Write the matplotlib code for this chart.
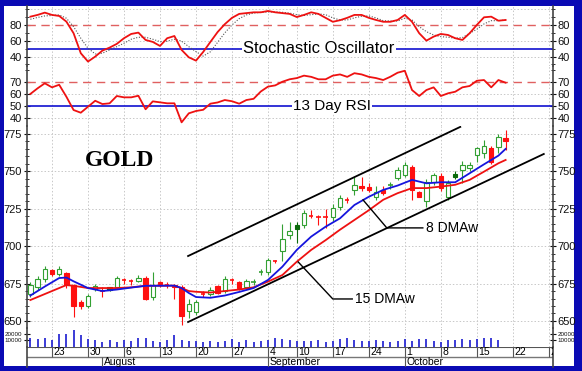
import numpy as np
import matplotlib.pyplot as plt
from matplotlib.patches import Rectangle

# ---- data (trading-day index 0 = Jul 18) ----
opens = [668, 673, 678, 684, 681.5, 682, 674, 662.7, 660, 671.5,
         670.5, 670.7, 672.7, 677.7, 677, 677, 679, 666, 676, 674.3,
         674, 673, 656.7, 656, 668.2, 668, 673.6, 670, 677.2, 676,
         673, 676, 682.6, 683, 690.3, 697, 707.5, 711.5, 714, 720.8,
         719.5, 719.5, 719.8, 726, 731.3, 737.5, 740.5, 739.8, 733, 737.6,
         741, 745.6, 747.6, 753, 736.4, 730, 743, 747, 733, 746.5,
         751, 752, 761, 762, 765.6, 766.5, 772]
highs = [676, 680, 687, 685, 687, 683, 675, 664, 668, 675,
         673, 673, 680, 679, 678, 681, 680, 683, 677, 676,
         675, 674, 665, 664, 670, 673, 674, 680, 679, 677,
         678, 678, 685, 692, 691, 715, 716, 716, 724, 724,
         721, 725, 728, 734, 733, 746.5, 746, 742, 740, 740,
         743, 753, 756, 754, 737, 745, 749, 749, 744, 750,
         757, 756, 766, 771, 767, 775, 777.7]
lows = [666, 671, 676, 680, 680, 672, 652.7, 658, 659, 670,
        666, 670, 672, 675, 674, 676, 664, 664, 673, 672,
        665, 647, 652, 654, 666, 667, 668, 669, 675, 671,
        672, 674, 681, 681, 689, 690, 705, 702, 712, 719,
        714, 712, 717, 724, 729, 734, 737, 736, 731, 734,
        738, 744, 746, 731, 733, 726.5, 741, 737, 731, 745,
        742, 750, 756, 759, 755, 762, 764]
closes = [674, 678, 685, 681.5, 685, 674, 660, 660, 667, 673.5,
          670, 672.7, 678.7, 677.4, 676.6, 679, 665, 674, 674.5, 674,
          673, 653, 661.4, 663, 668, 671, 668.5, 678, 677, 672,
          677, 676.4, 683, 691, 690, 705, 710, 714, 722, 720,
          719, 719, 725.7, 732, 731, 741, 738.8, 737.6, 736.5, 735.4,
          741.3, 751, 754, 737.6, 733, 743, 747.6, 738.7, 742, 748.3,
          754, 754, 765.6, 767, 756.5, 773, 770]
# u = hollow up, d = red down, g = solid green
kinds = list("uuududdduu" "dguddududd" "dduudududd"
             "uuuuduugud" "dduududdud" "uuudduudug"
             "uuuudud")

volume = [13800, 12300, 13800, 10800, 18800, 18800, 25600, 17300, 12300, 9900,
          7400, 9900, 7400, 9900, 8900, 13800, 13300, 8900, 7400, 9900,
          17300, 10800, 8900, 8900, 7400, 8900, 7400, 8900, 12300, 7400,
          9900, 7400, 8900, 9900, 13300, 12300, 9900, 8900, 8900, 8900,
          9900, 7400, 8900, 12300, 13800, 10400, 8900, 8900, 10400, 8900,
          7400, 8900, 12300, 8900, 12300, 12300, 8900, 7400, 9900, 9900,
          12300, 9900, 12300, 13800, 13800, 10800]

ma_idx = [0, 2, 4, 5, 6, 8, 10, 12, 14, 16, 20, 21, 22, 23, 25, 27, 29, 31,
          33, 35, 37, 39, 41, 43, 45, 47, 49, 51, 53, 55, 57, 59, 61, 63, 65, 66]
ma8 = [667, 673, 678.7, 679, 676.5, 672, 670, 671, 672.3, 673.5, 673.6, 672,
       668.7, 666, 665.5, 667, 669.4, 672, 677.4, 686.3, 697.5, 706.4, 713,
       718.6, 727.5, 733, 737.6, 740.5, 744.3, 742, 742.7, 742.7, 748.7,
       754.7, 760.5, 765]
ma15 = [664, 668, 672, 674, 673.5, 672, 672, 672, 672.5, 673.5, 673.6, 672,
        670, 669.5, 669, 670, 671, 672.5, 676.3, 680.7, 689.6, 697.5, 704,
        711, 717.5, 724, 731, 735.4, 738.8, 738.8, 739.8, 741, 744.3, 749.8,
        755.4, 757.6]

stoch_k = [90.5, 92.7, 95.6, 92.7, 91.4, 84.2, 69.5, 44.2, 33.6, 39.9,
           47.5, 51.3, 56, 63.2, 68.6, 70.3, 61, 58.5, 53.4, 63.2,
           66, 48.4, 39, 34.8, 45.8, 58.5, 71, 81, 89, 94,
           95, 96, 96, 97.7, 96, 95, 94, 90, 92.7, 96,
           94, 89, 84, 86, 89, 92.7, 92.7, 89, 86.3, 84,
           84, 86.3, 92.7, 84, 69.5, 60.1, 65.2, 68.6, 67.3, 63.2,
           61, 69.5, 80, 89.7, 90.5, 85.4, 86.3]
stoch_d = [87.2, 89.5, 91.4, 92, 92.7, 88.5, 77.8, 63.2, 50.5, 43.3,
           44.2, 48.4, 52.5, 56.8, 61.9, 64.4, 64.4, 61.9, 58.9, 59.5,
           61.9, 59.5, 52.5, 46.2, 40.5, 46, 58, 70, 80, 88,
           92.7, 95, 96, 96.5, 96.5, 96, 95, 93, 92, 93,
           94, 93, 89, 86.3, 86.3, 89, 91, 91.4, 89, 85.4,
           85, 85, 88.5, 86.3, 77.8, 71.5, 67.3, 65.2, 64.4, 63.2,
           64, 69.5, 74.5, 81.3, 85.4, 85.4, 86.3]
rsi = [60, 64.6, 68.7, 65.4, 67.5, 57.7, 46.8, 44.6, 49.5, 54.4,
       51.7, 52.3, 58.3, 57.2, 57.2, 58.5, 47.4, 53.9, 53.1, 52.3,
       52.3, 36.7, 44.1, 46, 47, 52, 53, 55, 54, 52,
       55, 56, 62, 66, 67, 70, 72, 73, 75, 74,
       72, 72, 75, 76, 74, 77, 76, 74, 73, 71.4,
       74.1, 77.4, 79, 63.2, 58.3, 63.2, 65.4, 58.3, 60.5, 61.8,
       65.4, 66.5, 70.8, 71.4, 65.4, 71.4, 69.2]

day_ticks = [3, 8, 13, 18, 23, 28, 33, 37, 42, 47, 52, 57, 62, 67, 72]
day_labels = ["23", "30", "6", "13", "20", "27", "4", "10", "17", "24",
              "1", "8", "15", "22", "29"]
month_starts = [10, 33, 52]
month_labels = ["August", "September", "October"]

chan_upper = ([21.9, 59.7], [693.4, 779.7])
chan_lower = ([21.9, 71.3], [649.3, 761.6])
ann8 = ([46.2, 49.5, 54.5], [730.9, 712.2, 712.2])
ann15 = ([37.2, 42.0, 44.7], [689.4, 664.7, 664.7])

# ---- layout ----
W, H = 582, 371
BLUE = "#0a0ab4"
GRID = "#c8c8c8"
FONT = "Liberation Sans"
plt.rcParams["font.family"] = FONT

fig = plt.figure(figsize=(W / 100, H / 100), dpi=100)
fig.patch.set_facecolor(BLUE)
bg = fig.add_axes([4 / W, 1 - 366 / H, 570 / W, 360 / H], zorder=-5)
bg.set_facecolor("white")
bg.set_xticks([])
bg.set_yticks([])
for s in bg.spines.values():
    s.set_visible(False)


def box(x0, y0, x1, y1):
    return [x0 / W, 1 - y1 / H, (x1 - x0) / W, (y1 - y0) / H]


xlim = (-0.47, 72.58)
ax_st = fig.add_axes(box(27, 6, 553, 66))
ax_rsi = fig.add_axes(box(27, 66, 553, 126))
ax_px = fig.add_axes(box(27, 126, 553, 328))
ax_vol = fig.add_axes(box(27, 328, 553, 347))
ax_dt = fig.add_axes(box(27, 347, 553, 367))

for ax in (ax_st, ax_rsi, ax_px, ax_vol, ax_dt):
    ax.set_xlim(*xlim)
    ax.patch.set_alpha(0)
    ax.spines["top"].set_visible(False)
    ax.spines["bottom"].set_visible(False)
    for s in ("left", "right"):
        ax.spines[s].set_color("#444444")
        ax.spines[s].set_linewidth(1.2)
    ax.set_xticks([])
    ax.tick_params(axis="y", which="both", left=True, right=True,
                   labelleft=True, labelright=True, direction="inout",
                   labelsize=8, pad=1, colors="#111111")
    ax.tick_params(axis="y", which="major", length=5, width=0.8)
    ax.tick_params(axis="y", which="minor", length=3, width=0.6)
    for d in day_ticks:
        if ax is not ax_dt:
            ax.axvline(d, color=GRID, lw=0.7, ls=(0, (1.5, 2)), zorder=0)

# stochastic
x = np.arange(len(stoch_k))
ax_st.set_ylim(28, 104)
ax_st.set_yticks([40, 60, 80])
ax_st.set_yticks([30, 50, 70, 90, 100], minor=True)
ax_st.tick_params(axis="y", which="minor", labelleft=False, labelright=False)
for v in (60, 40, 100):
    ax_st.axhline(v, color=GRID, lw=0.7, ls=(0, (1.5, 2)), zorder=0)
ax_st.axhline(80, color="#e06060", lw=1.0, ls=(0, (6, 4)))
ax_st.axhline(50, color="#1010d0", lw=1.2)
ax_st.plot(x, stoch_d, color="#555555", lw=0.8, ls=(0, (1, 1.5)))
ax_st.plot(x, stoch_k, color="#ee1111", lw=1.3)
ax_st.text(0.555, 50, "Stochastic Oscillator", ha="center", va="center",
           fontsize=12, transform=ax_st.get_yaxis_transform(),
           bbox=dict(facecolor="white", edgecolor="none", pad=1.0))

# RSI
ax_rsi.set_ylim(33.7, 82.9)
ax_rsi.set_yticks([40, 50, 60, 70])
ax_rsi.set_yticks([80], minor=True)
ax_rsi.tick_params(axis="y", which="minor", labelleft=False, labelright=False)
for v in (60, 40):
    ax_rsi.axhline(v, color=GRID, lw=0.7, ls=(0, (1.5, 2)), zorder=0)
ax_rsi.axhline(70, color="#e06060", lw=1.0, ls=(0, (6, 4)))
ax_rsi.axhline(50, color="#1010d0", lw=1.2)
ax_rsi.plot(x, rsi, color="#ee1111", lw=1.3)
ax_rsi.text(0.58, 50, "13 Day RSI", ha="center", va="center",
            fontsize=11, transform=ax_rsi.get_yaxis_transform(),
            bbox=dict(facecolor="white", edgecolor="none", pad=1.0))

# price
ax_px.set_ylim(645.3, 780.3)
ax_px.set_yticks([650, 675, 700, 725, 750, 775])
ax_px.set_yticks(np.arange(655, 780, 5), minor=True)
ax_px.tick_params(axis="y", which="minor", labelleft=False, labelright=False)
for v in (650, 675, 700, 725, 750, 775):
    ax_px.axhline(v, color=GRID, lw=0.7, ls=(0, (1.5, 2)), zorder=0)

bw = 0.62
for i, (o, h, l, c, k) in enumerate(zip(opens, highs, lows, closes, kinds)):
    col = {"u": "#33a033", "d": "#ff1010", "g": "#0a6a0a"}[k]
    ax_px.vlines(i, l, h, color=col, lw=0.8, zorder=2)
    lo, hi = min(o, c), max(o, c)
    face = "white" if k == "u" else col
    if hi - lo < 0.8:
        ax_px.hlines((o + c) / 2, i - bw / 2, i + bw / 2, color=col, lw=1.2, zorder=3)
    else:
        ax_px.add_patch(Rectangle((i - bw / 2, lo), bw, hi - lo, facecolor=face,
                                  edgecolor=col, lw=0.8, zorder=3))

ax_px.plot(ma_idx, ma15, color="#ee1111", lw=1.3, zorder=4)
ax_px.plot(ma_idx, ma8, color="#1515dd", lw=1.3, zorder=4)
ax_px.plot(*chan_upper, color="black", lw=1.3, zorder=5)
ax_px.plot(*chan_lower, color="black", lw=1.3, zorder=5)
ax_px.plot(*ann8, color="black", lw=1.0, zorder=5)
ax_px.plot(*ann15, color="black", lw=1.0, zorder=5)
ax_px.text(ann8[0][-1] + 0.5, ann8[1][-1], "8 DMAw", fontsize=10,
           ha="left", va="center")
ax_px.text(ann15[0][-1] + 0.4, ann15[1][-1], "15 DMAw", fontsize=10,
           ha="left", va="center")
ax_px.text(12.4, 757, "GOLD", fontsize=17, fontweight="bold",
           family="Liberation Serif", ha="center", va="center")

# volume
ax_vol.set_ylim(0, 28150)
ax_vol.set_yticks([10000, 20000])
ax_vol.tick_params(axis="y", labelsize=4.5)
ax_vol.vlines(np.arange(len(volume)), 0, volume, color="#1a1ad0", lw=1.2)

# date axis
ax_dt.set_ylim(0, 2)
ax_dt.set_yticks([])
ax_dt.axhline(2, color="#555555", lw=1.5)
ax_dt.axhline(1, color="#777777", lw=1.0)
for d, lab in zip(day_ticks, day_labels):
    ax_dt.vlines(d, 1, 2, color="#555555", lw=0.8)
    ax_dt.text(d + 0.2, 1.5, lab, fontsize=7.5, ha="left", va="center",
               clip_on=True)
for m, lab in zip(month_starts, month_labels):
    ax_dt.vlines(m, 0, 1, color="#555555", lw=0.8)
    ax_dt.text(m + 0.2, 0.5, lab, fontsize=7.5, ha="left", va="center")

fig.savefig("out.png", dpi=100, facecolor=fig.get_facecolor())
